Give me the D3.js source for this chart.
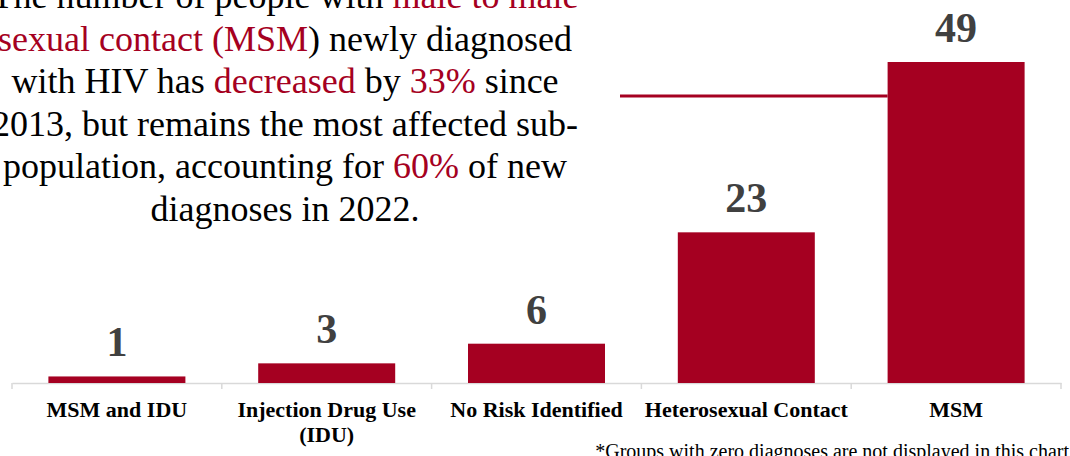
<!DOCTYPE html>
<html><head><meta charset="utf-8">
<script src="https://cdn.jsdelivr.net/npm/d3@7"></script>
<style>body{margin:0;background:#fff;} svg{display:block;} text, tspan{font-family:"Liberation Serif","Times New Roman",serif;}</style>
</head><body>
<svg id="c" width="1070" height="456"></svg>
<script>
const categories = ["MSM and IDU", "Injection Drug Use (IDU)", "No Risk Identified", "Heterosexual Contact", "MSM"];
const categoryLines = [["MSM and IDU"], ["Injection Drug Use", "(IDU)"], ["No Risk Identified"], ["Heterosexual Contact"], ["MSM"]];
const values = [1, 3, 6, 23, 49];
const paragraph = [
  [["The number of people with ", false], ["male to male", true]],
  [["sexual contact (MSM", true], [") newly diagnosed", false]],
  [["with HIV has ", false], ["decreased", true], [" by ", false], ["33%", true], [" since", false]],
  [["2013, but remains the most affected sub-", false]],
  [["population, accounting for ", false], ["60%", true], [" of new", false]],
  [["diagnoses in 2022.", false]]
];
const footnote = "*Groups with zero diagnoses are not displayed in this chart";

const RED = "#a50021";
const svg = d3.select("#c");
const serif = "Liberation Serif";

const x = d3.scaleBand().domain(categories).range([12, 1061]).paddingInner(0.347).paddingOuter(0.1735);
const y = d3.scaleLinear().domain([0, 49]).range([383, 62]);

// axis
const axis = d3.axisBottom(x).tickSize(0).tickFormat("");
const ag = svg.append("g").attr("transform", "translate(0,383)").call(axis);
ag.select(".domain").attr("stroke", "#d9d9d9").attr("stroke-width", 1.5);
const step = x.step();
const bounds = d3.range(categories.length + 1).map(i => 12 + i * step);
svg.append("g").selectAll("line").data(bounds).join("line")
  .attr("x1", d => d).attr("x2", d => d).attr("y1", 383).attr("y2", 389)
  .attr("stroke", "#d9d9d9").attr("stroke-width", 1.5);

// bars
svg.append("g").selectAll("rect").data(values).join("rect")
  .attr("x", (d, i) => x(categories[i])).attr("width", x.bandwidth())
  .attr("y", d => y(d)).attr("height", d => y(0) - y(d)).attr("fill", RED);

// value labels
svg.append("g").selectAll("text").data(values).join("text")
  .attr("x", (d, i) => x(categories[i]) + x.bandwidth() / 2)
  .attr("y", d => y(d) - 20)
  .attr("text-anchor", "middle").style("font-family", serif).attr("font-weight", "bold")
  .attr("font-size", 42).attr("fill", "#404040").text(d => d);

// category labels
const cl = svg.append("g").selectAll("text").data(categoryLines).join("text")
  .attr("x", (d, i) => x(categories[i]) + x.bandwidth() / 2)
  .attr("y", 417).attr("text-anchor", "middle").style("font-family", serif)
  .attr("font-weight", "bold").attr("font-size", 22).attr("fill", "#000");
cl.selectAll("tspan").data(d => d).join("tspan")
  .attr("x", function () { return d3.select(this.parentNode).attr("x"); })
  .attr("dy", (d, i) => i === 0 ? 0 : 25).style("font-family", serif).text(d => d);

// red line
svg.append("line").attr("x1", 620).attr("x2", x("MSM")).attr("y1", 96).attr("y2", 96)
  .attr("stroke", RED).attr("stroke-width", 3);

// paragraph
const pg = svg.append("g");
paragraph.forEach((line, i) => {
  const t = pg.append("text").attr("x", 285).attr("y", 8 + i * 42.5)
    .attr("text-anchor", "middle").style("font-family", serif).attr("font-size", 36);
  line.forEach(([s, red]) => t.append("tspan").style("font-family", serif)
    .attr("fill", red ? RED : "#000").text(s));
});

// footnote
svg.append("text").attr("x", 1069).attr("y", 458).attr("text-anchor", "end")
  .style("font-family", serif).attr("font-size", 20).attr("fill", "#000").text(footnote);
</script>
</body></html>
